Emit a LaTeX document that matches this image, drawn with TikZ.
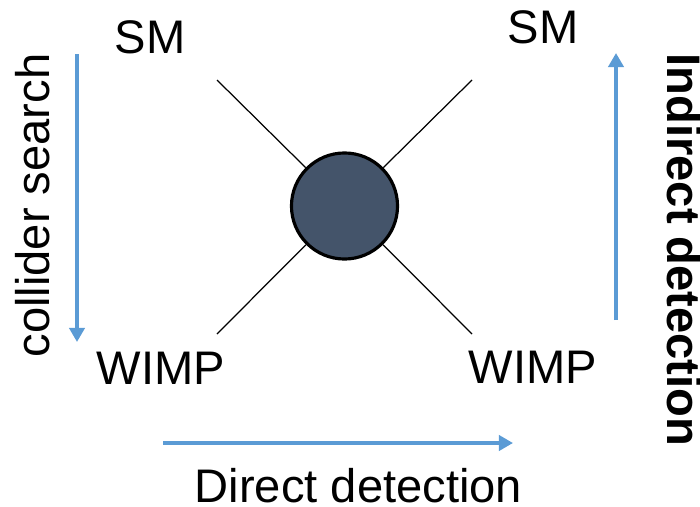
\documentclass[tikz,border=0pt]{standalone}
\usepackage{fontspec}
\setmainfont{Liberation Sans}
\usepackage{xcolor}
\usepackage{tikz}
\usetikzlibrary{arrows.meta}

\definecolor{flowblue}{HTML}{5B9BD5}
\definecolor{blobgray}{HTML}{44546A}

\begin{document}
\begin{tikzpicture}[
    x=0.01cm, y=-0.01cm,
    font=\fontsize{13.4pt}{16pt}\selectfont,
    particle/.style={anchor=base, inner sep=0pt},
    vertex/.style={circle, draw=black, line width=0.9pt, fill=blobgray,
      minimum size=1.06cm, inner sep=0pt},
    leg/.style={line width=0.35pt, black},
    flow/.style={-{Triangle[width=4.3pt,length=4pt]}, line width=1.15pt, flowblue},
    side/.style={anchor=base, inner sep=0pt}
  ]
    \useasboundingbox (0,0) rectangle (700,506);

    % interaction vertex and its four legs
    \node[vertex] (blob) at (344.5,206) {};
    \coordinate (legTL) at (217,80);
    \coordinate (legTR) at (472,80);
    \coordinate (legBL) at (217,334);
    \coordinate (legBR) at (472,334);
    \draw[leg] (legTL) -- (blob);
    \draw[leg] (legTR) -- (blob);
    \draw[leg] (legBL) -- (blob);
    \draw[leg] (legBR) -- (blob);

    \node[particle] (smL) at (150,53) {SM};
    \node[particle] (smR) at (543,43) {SM};
    \node[particle] (wimpL) at (161,384) {WIMP};
    \node[particle] (wimpR) at (533,383) {WIMP};

    % detection channels
    \coordinate (colTop) at (77,54);
    \coordinate (colBot) at (77,342);
    \coordinate (dirStart) at (163,443);
    \coordinate (dirEnd) at (513,443);
    \coordinate (indStart) at (616,320);
    \coordinate (indEnd) at (616,53);
    \draw[flow] (colTop) -- (colBot);
    \draw[flow] (dirStart) -- (dirEnd);
    \draw[flow] (indStart) -- (indEnd);

    \node[side, rotate=90] (collider) at (50,205.5) {collider search};
    \node[side] (direct) at (358.5,502) {Direct detection};
    \node[side, rotate=-90, font=\fontsize{13.4pt}{16pt}\selectfont\bfseries] (indirect) at (667,250) {Indirect detection};
  \end{tikzpicture}
\end{document}
